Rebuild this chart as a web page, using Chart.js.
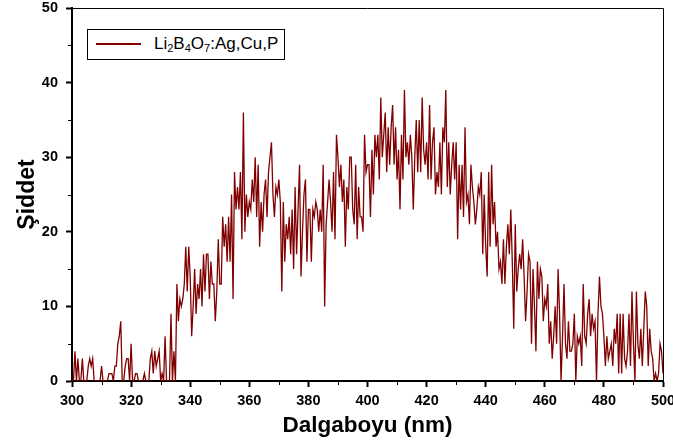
<!DOCTYPE html>
<html>
<head>
<meta charset="utf-8">
<script src="https://cdn.jsdelivr.net/npm/chart.js@4.4.1/dist/chart.umd.min.js"></script>
<style>
  html, body { margin: 0; padding: 0; background: #fff; }
  #wrap { position: relative; width: 673px; height: 441px; }
  #legend {
    position: absolute; left: 87px; top: 29px; width: 196px; height: 29px;
    border: 1px solid #000; background: #fff;
    font-family: 'Liberation Sans', Arial, sans-serif; font-size: 17px; color: #000;
  }
  #legend .ln { position: absolute; left: 8px; top: 13px; width: 45px; height: 2px; background: #800000; }
  #legend .tx { position: absolute; left: 66px; top: 4px; line-height: 20px; white-space: nowrap; }
  #legend sub { font-size: 11px; line-height: 0; vertical-align: -3px; }
</style>
</head>
<body>
<div id="wrap">
  <canvas id="c" width="673" height="441"></canvas>
  <div id="legend"><span class="ln"></span><span class="tx">Li<sub>2</sub>B<sub>4</sub>O<sub>7</sub>:Ag,Cu,P</span></div>
</div>
<script>
// ---- data ----
const seriesName = 'Li2B4O7:Ag,Cu,P';
const waveStart = 300;
const waveStep = 0.5;
const intensity = [
  0,0,4,0,3,0,0,3,0,0,0,2,3,2,3,0,0,0,0,0,
  2,0,0,0,0,1,1,1,0,2,2,5,6,8,0,0,2,3,3,0,
  5,0,0,1,1,0,0,0,0,1,0,0,0,3,4,1,4,2,3,4,
  0,1,0,6,0,0,0,9,0,4,0,13,8,11,10,11,13,18,12,18,
  14,6,10,15,9,13,11,15,10,17,12,17,17,11,16,13,13,8,12,19,
  13,13,22,18,21,16,22,16,25,11,28,23,26,23,28,19,36,20,25,22,
  24,23,27,24,30,22,29,18,24,20,25,27,22,28,30,32,25,22,26,25,
  27,24,12,24,16,21,19,22,17,23,15,26,17,23,29,14,20,25,27,16,
  23,23,16,23,22,24,23,20,23,20,29,10,21,24,27,24,20,28,19,33,
  30,26,29,24,27,18,26,23,30,30,23,21,29,19,26,22,22,20,33,28,
  29,29,22,31,25,33,30,33,27,38,30,33,36,28,34,29,34,37,29,34,
  27,31,23,33,27,39,30,32,29,33,30,23,30,35,28,35,28,38,31,29,
  32,27,37,27,32,34,25,28,26,32,25,34,32,39,26,32,25,29,32,27,
  32,19,29,23,29,22,34,24,25,21,29,26,24,21,23,26,25,28,17,25,
  18,14,28,18,29,21,24,18,20,15,16,13,19,13,18,21,17,23,16,7,
  21,12,15,17,15,19,14,8,12,17,16,5,15,10,4,16,11,15,14,8,
  11,10,13,5,8,3,6,10,5,15,9,0,6,13,5,3,8,4,4,5,
  9,0,6,5,6,2,13,6,5,9,11,6,9,7,8,0,9,14,10,9,
  6,2,6,3,4,5,2,7,5,9,1,9,1,9,3,2,4,9,2,12,
  5,0,12,5,3,7,2,7,12,10,2,7,4,3,0,1,0,1,5,4,1
];
const wavelengths = intensity.map((_, i) => waveStart + i * waveStep);
const xMin = 300, xMax = 500, xMajorStep = 20;
const yMin = 0, yMax = 50, yMajorStep = 10;
const xMinorTicks = [310, 330, 350, 370, 390, 410, 430, 450, 470, 490];
const yMinorTicks = [5, 15, 25, 35, 45];
const xTitle = 'Dalgaboyu (nm)';
const yTitle = 'Şiddet';

// ---- chart ----
const FONT = "'Liberation Sans', Arial, sans-serif";
const framePlugin = {
  id: 'frame',
  afterDraw(chart) {
    const { ctx, chartArea: a, scales: { x, y } } = chart;
    ctx.save();
    ctx.strokeStyle = '#000';
    ctx.lineWidth = 1;
    ctx.beginPath();
    ctx.moveTo(a.left, a.top + 0.5);
    ctx.lineTo(a.right + 0.5, a.top + 0.5);
    ctx.lineTo(a.right + 0.5, a.bottom);
    ctx.stroke();
    ctx.beginPath();
    xMinorTicks.forEach(v => {
      const px = Math.round(x.getPixelForValue(v)) + 0.5;
      ctx.moveTo(px, a.bottom); ctx.lineTo(px, a.bottom + 4);
    });
    yMinorTicks.forEach(v => {
      const py = Math.round(y.getPixelForValue(v)) + 0.5;
      ctx.moveTo(a.left - 4, py); ctx.lineTo(a.left, py);
    });
    ctx.stroke();
    ctx.restore();
  }
};

new Chart(document.getElementById('c'), {
  type: 'line',
  data: {
    datasets: [{
      label: seriesName,
      data: wavelengths.map((w, i) => ({ x: w, y: intensity[i] })),
      borderColor: '#800000',
      borderWidth: 1.3,
      pointRadius: 0,
      tension: 0,
      fill: false
    }]
  },
  options: {
    responsive: false,
    animation: false,
    layout: { padding: { top: 8, right: 10, left: 0, bottom: 0 } },
    plugins: { legend: { display: false }, tooltip: { enabled: false } },
    scales: {
      x: {
        type: 'linear', min: xMin, max: xMax,
        afterFit(s) { s.height = 60; s.paddingLeft = 0; s.paddingRight = 0; },
        ticks: { stepSize: xMajorStep, color: '#000', padding: 5, maxRotation: 0, autoSkip: false,
                 font: { family: FONT, size: 14.5, weight: 'bold' } },
        grid: { drawOnChartArea: false, tickLength: 6, tickWidth: 2, tickColor: '#000' },
        border: { color: '#000', width: 2 },
        title: { display: true, text: xTitle, color: '#000', padding: { top: 0, bottom: 2 },
                 font: { family: FONT, size: 22.5, weight: 'bold' } }
      },
      y: {
        min: yMin, max: yMax,
        afterFit(s) { s.width = 72; s.paddingTop = 0; s.paddingBottom = 0; },
        ticks: { stepSize: yMajorStep, color: '#000', padding: 8,
                 font: { family: FONT, size: 14.5, weight: 'bold' } },
        grid: { drawOnChartArea: false, tickLength: 6, tickWidth: 2, tickColor: '#000' },
        border: { color: '#000', width: 2 },
        title: { display: true, text: yTitle, color: '#000', padding: { top: 14, bottom: 0 },
                 font: { family: FONT, size: 23, weight: 'bold' } }
      }
    }
  },
  plugins: [framePlugin]
});
</script>
</body>
</html>
